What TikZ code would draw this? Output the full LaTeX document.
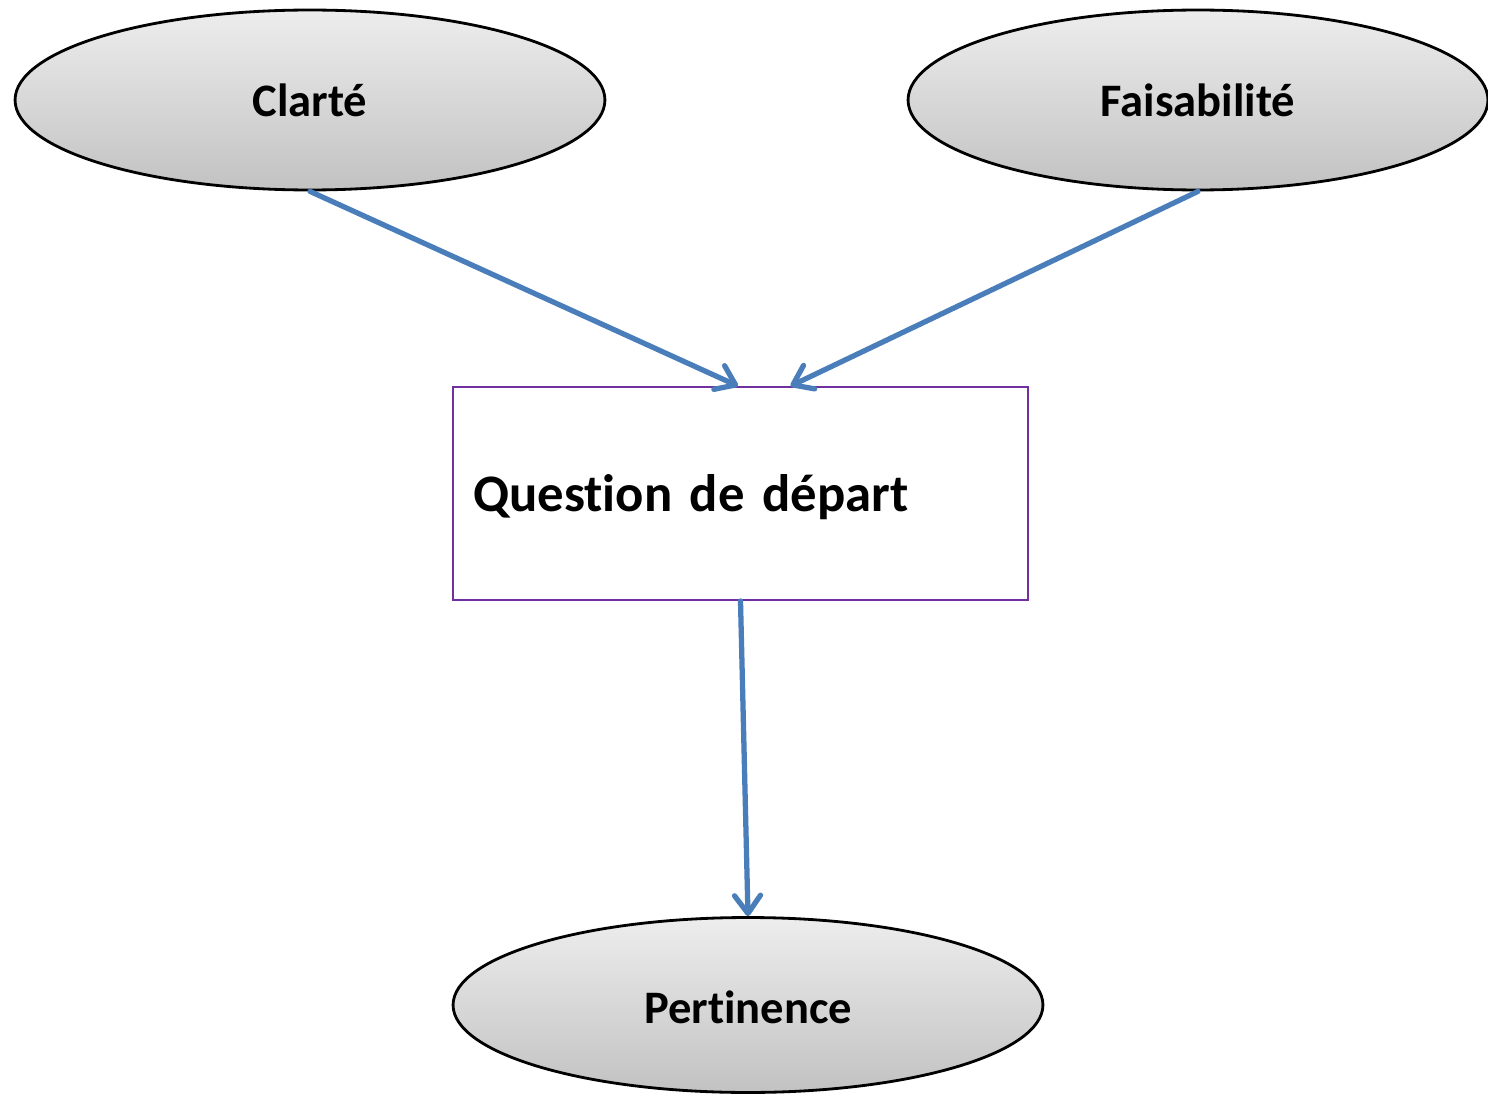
\documentclass[tikz,border=0pt]{standalone}
\usepackage{fontspec}
\newfontfamily\critfont{Carlito Bold}[Ligatures={NoCommon,NoContextual},WordSpace=0.7]
\usetikzlibrary{positioning,shapes.geometric,arrows.meta}

\definecolor{arrowblue}{HTML}{4A7EBB}
\definecolor{boxpurple}{HTML}{7030A0}
% keeps t and i apart (no ligature)
\newcommand{\ti}{t\kern0pt i}

\begin{document}
\begin{tikzpicture}[
            x=0.02cm, y=-0.02cm,
            crit node/.style={ellipse,draw,line width=1.6pt,top color=gray!14,bottom color=gray!48,
                font=\critfont\fontsize{26.5}{32}\selectfont,minimum width=11.8cm,minimum height=3.6cm,inner sep=0pt},
            question node/.style={rectangle,draw=boxpurple,line width=1.1pt,fill=white,
                font=\critfont\fontsize{30}{36}\selectfont,minimum width=11.5cm,minimum height=4.26cm,
                text width=10.7cm,align=left,inner xsep=0.4cm},
            flow/.style={draw=arrowblue,line width=3pt,line cap=round,
                -{Straight Barb[length=3.6mm,width=5.2mm,line cap=round,line join=round]}},
        ]
            \useasboundingbox (0,0) rectangle (1488,1095);

            \node[crit node] (clarte) at (310,100) {Clarté};
            \node[crit node, minimum width=11.6cm] (faisab) at (1198,100) {Faisabilité};
            \node[question node] (question) at (740.5,493.5) {\raisebox{-0.08cm}[\height][\depth]{Ques\ti on de départ}};
            \node[crit node, minimum height=3.5cm] (pertin) at (748,1005) {\raisebox{-0.05cm}[\height][\depth]{Per\ti nence}};

            \draw[flow] (clarte.south) -- ([xshift=-0.05cm]question.north);
            \draw[flow] (faisab.south) -- ([xshift=1cm]question.north);
            \draw[flow] (question.south) -- (pertin.north);
        \end{tikzpicture}
\end{document}
